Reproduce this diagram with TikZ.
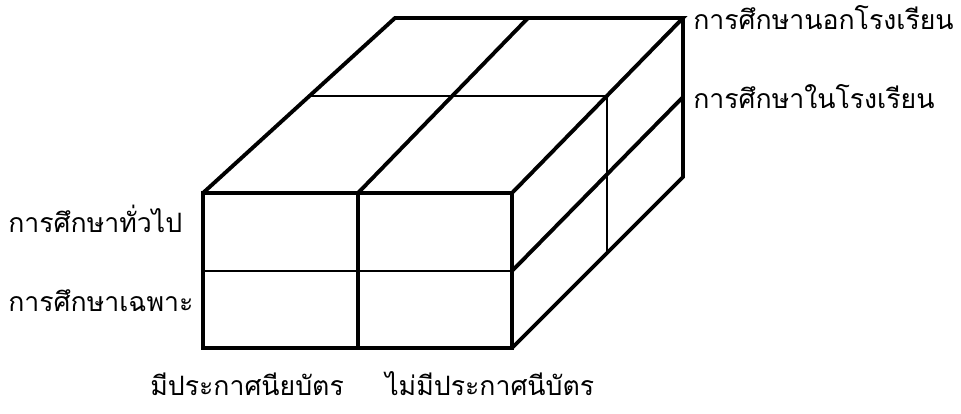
\documentclass[tikz,border=0pt]{standalone}
\usepackage{fontspec}
\newfontfamily\thaifont[Script=Thai]{Loma}
\begin{document}
\begin{tikzpicture}[x=0.75pt,y=-0.75pt,
  edge/.style={line width=2.9pt,line join=miter,line cap=round},
  thinedge/.style={line width=1.9pt,line cap=round},
  lbl/.style={font=\thaifont\fontsize{20}{22}\selectfont,inner sep=0pt}]
\useasboundingbox (0,0) rectangle (961,414);
% front face corners
\coordinate (FTL) at (203,193);
\coordinate (FTM) at (358,193);
\coordinate (FTR) at (512,193);
\coordinate (FML) at (203,271);
\coordinate (FMR) at (512,271);
\coordinate (FBL) at (203,348);
\coordinate (FBM) at (358,348);
\coordinate (FBR) at (512,348);
% back corners
\coordinate (BTL) at (395,18);
\coordinate (BTM) at (528,18);
\coordinate (BTR) at (683,18);
\coordinate (BMR) at (683,97);
\coordinate (BBR) at (683,177);
% mid-depth
\coordinate (DL) at (309,96);
\coordinate (DR) at (607,96);
\coordinate (DB) at (607,252);
% front face
\draw[edge] (FTL) rectangle (FBR);
\draw[edge] (FTM) -- (FBM);
\draw[thinedge] (FML) -- (FMR);
% top face
\draw[edge] (FTL) -- (BTL) -- (BTR) -- (FTR);
\draw[edge] (FTM) -- (BTM);
\draw[thinedge] (DL) -- (DR);
% right face
\draw[edge] (BTR) -- (BBR) -- (FBR);
\draw[edge] (FMR) -- (BMR);
\draw[thinedge] (DR) -- (DB);
% labels
\node[lbl,anchor=base west] (outschool) at (693,29) {การศึกษานอกโรงเรียน};
\node[lbl,anchor=base west] (inschool) at (693,108) {การศึกษาในโรงเรียน};
\node[lbl,anchor=base west] (general) at (8,232) {การศึกษาทั่วไป};
\node[lbl,anchor=base west] (specific) at (8,311) {การศึกษาเฉพาะ};
\node[lbl,anchor=base west] (cert) at (150,395) {มีประกาศนียบัตร};
\node[lbl,anchor=base west] (nocert) at (385,395) {ไม่มีประกาศนีบัตร};
\end{tikzpicture}
\end{document}
